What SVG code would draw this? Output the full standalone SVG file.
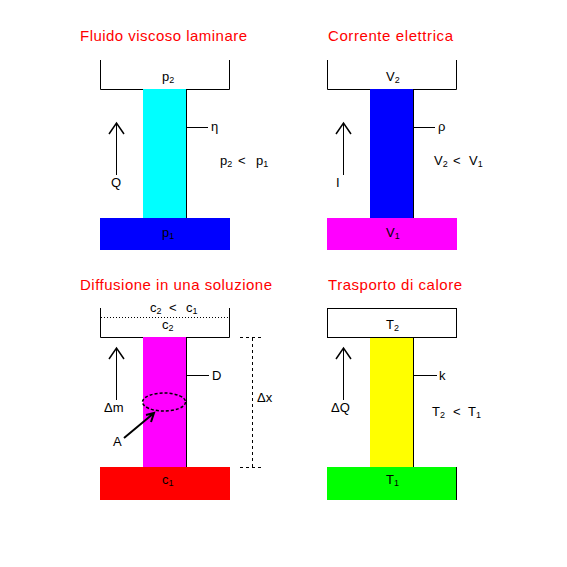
<svg xmlns="http://www.w3.org/2000/svg" width="567" height="567" viewBox="0 0 567 567">
<style>
.title{font-family:"Liberation Sans",Arial,sans-serif;font-size:15px;fill:#ff0000}
.lbl{font-family:"Liberation Sans",Arial,sans-serif;font-size:13px;fill:#000}
.sub{font-size:9px}
.ln{stroke:#000;stroke-width:1;fill:none}
.arr{stroke:#000;stroke-width:1.5;fill:none}
.dash{stroke:#000;stroke-width:1;fill:none;stroke-dasharray:3,3}
</style>
<rect width="567" height="567" fill="#fff"/>

<g id="fluido">
<text class="title" x="80" y="41" textLength="167" lengthAdjust="spacing">Fluido viscoso laminare</text>
<rect x="143" y="89" width="43" height="129" fill="#00ffff"/>
<rect x="100" y="218" width="130" height="32" fill="#0000ff"/>
<path class="ln" d="M100.5 60V89.5H143M186 89.5H229.5V60M186.5 89V218"/>
<path class="ln" d="M186 127.5H208"/>
<text class="lbl" x="211" y="131">η</text>
<text class="lbl" x="162" y="81">p<tspan class="sub" dy="2">2</tspan></text>
<text class="lbl" x="162" y="237">p<tspan class="sub" dy="2">1</tspan></text>
<text class="lbl" x="220" y="165">p<tspan class="sub" dy="2">2</tspan><tspan x="238" dy="-2">&lt;</tspan><tspan x="256">p</tspan><tspan class="sub" dy="2">1</tspan></text>
<path class="ln" d="M116.5 124V175"/>
<path class="arr" d="M109 134L116.5 123L124 134"/>
<text class="lbl" x="111" y="187">Q</text>
</g>

<g id="corrente">
<text class="title" x="328" y="41" textLength="125" lengthAdjust="spacing">Corrente elettrica</text>
<rect x="370" y="89" width="43" height="129" fill="#0000ff"/>
<rect x="327" y="218" width="130" height="32" fill="#ff00ff"/>
<path class="ln" d="M327.5 60V89.5H370M413 89.5H456.5V60M413.5 89V218"/>
<path class="ln" d="M413 127.5H435"/>
<text class="lbl" x="438" y="131">ρ</text>
<text class="lbl" x="386" y="81">V<tspan class="sub" dy="2">2</tspan></text>
<text class="lbl" x="386" y="237">V<tspan class="sub" dy="2">1</tspan></text>
<text class="lbl" x="434" y="165">V<tspan class="sub" dy="2">2</tspan><tspan x="453" dy="-2">&lt;</tspan><tspan x="469">V</tspan><tspan class="sub" dy="2">1</tspan></text>
<path class="ln" d="M343.5 124V175"/>
<path class="arr" d="M336 134L343.5 123L351 134"/>
<text class="lbl" x="336" y="187">I</text>
</g>

<g id="diffusione">
<text class="title" x="80" y="290" textLength="192" lengthAdjust="spacing">Diffusione in una soluzione</text>
<rect x="143" y="337" width="43" height="130" fill="#ff00ff"/>
<rect x="100" y="467" width="130" height="33" fill="#ff0000"/>
<path class="ln" d="M100.5 308V337.5H143M186 337.5H229.5V308M186.5 337V467"/>
<path d="M101 317.5H229" stroke="#000" stroke-width="1" stroke-dasharray="1,2"/>
<text class="lbl" x="150" y="312">c<tspan class="sub" dy="2">2</tspan><tspan x="169" dy="-2">&lt;</tspan><tspan x="186">c</tspan><tspan class="sub" dy="2">1</tspan></text>
<text class="lbl" x="162" y="329">c<tspan class="sub" dy="2">2</tspan></text>
<text class="lbl" x="162" y="484">c<tspan class="sub" dy="2">1</tspan></text>
<path class="ln" d="M186 375.5H209"/>
<text class="lbl" x="212" y="380">D</text>
<path class="dash" d="M240 337.5H262M252.5 338V467M240 467.5H262"/>
<text class="lbl" x="257" y="402">Δx</text>
<path class="ln" d="M116.5 349V400"/>
<path class="arr" d="M109 359L116.5 348L124 359"/>
<text class="lbl" x="104" y="412">Δm</text>
<ellipse cx="164" cy="402" rx="21.5" ry="9" fill="none" stroke="#000" stroke-width="1.5" stroke-dasharray="3,2"/>
<path stroke="#000" stroke-width="2" fill="none" d="M124 438L154 413M146 415L154 413L151 422"/>
<text class="lbl" x="113" y="446">A</text>
</g>

<g id="calore">
<text class="title" x="328" y="290" textLength="134" lengthAdjust="spacing">Trasporto di calore</text>
<rect x="370" y="337" width="43" height="130" fill="#ffff00"/>
<rect x="327" y="467" width="130" height="33" fill="#00ff00"/>
<rect x="327.5" y="308.5" width="129" height="29" fill="#fff" stroke="#000"/>
<path class="ln" d="M413.5 337V467M456.5 467V500"/>
<path class="ln" d="M413 375.5H437"/>
<text class="lbl" x="439" y="380">k</text>
<text class="lbl" x="386" y="329">T<tspan class="sub" dy="2">2</tspan></text>
<text class="lbl" x="386" y="484">T<tspan class="sub" dy="2">1</tspan></text>
<text class="lbl" x="432" y="416">T<tspan class="sub" dy="2">2</tspan><tspan x="453" dy="-2">&lt;</tspan><tspan x="468">T</tspan><tspan class="sub" dy="2">1</tspan></text>
<path class="ln" d="M343.5 349V400"/>
<path class="arr" d="M336 359L343.5 348L351 359"/>
<text class="lbl" x="331" y="412">ΔQ</text>
</g>
</svg>
